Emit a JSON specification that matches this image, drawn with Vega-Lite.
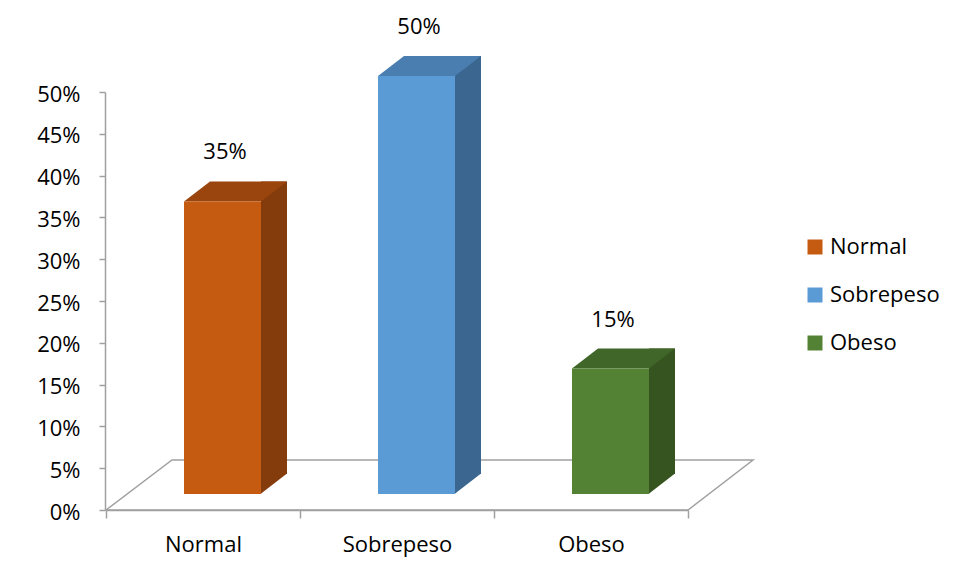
{
  "$schema": "https://vega.github.io/schema/vega-lite/v6.json",
  "width": 582,
  "height": 418,
  "autosize": {"type": "none"},
  "padding": {"left": 106, "top": 92, "right": 269, "bottom": 67},
  "background": "white",
  "config": {"view": {"stroke": null}, "font": "Open Sans"},
  "data": {
    "values": [
      {"estado": "Normal", "pct": 0.35},
      {"estado": "Sobrepeso", "pct": 0.5},
      {"estado": "Obeso", "pct": 0.15}
    ]
  },
  "encoding": {
    "x": {
      "field": "estado",
      "type": "nominal",
      "sort": ["Normal", "Sobrepeso", "Obeso"],
      "scale": {"paddingInner": 0, "paddingOuter": 0},
      "axis": {
        "title": null,
        "labelAngle": 0,
        "labelFontSize": 22,
        "labelFont": "Open Sans",
        "labelColor": "black",
        "domainColor": "#a0a0a0",
        "domainWidth": 1.5,
        "tickColor": "#a0a0a0",
        "tickWidth": 1.5,
        "tickSize": 8,
        "tickBand": "extent",
        "labelPadding": 16
      }
    },
    "y": {
      "field": "pct",
      "type": "quantitative",
      "scale": {"domain": [0, 0.5], "nice": false, "zero": true},
      "axis": {
        "title": null,
        "values": [0, 0.05, 0.1, 0.15, 0.2, 0.25, 0.3, 0.35, 0.4, 0.45, 0.5],
        "format": ".0%",
        "grid": false,
        "labelFontSize": 22,
        "labelFont": "Open Sans",
        "labelColor": "black",
        "labelOffset": 2,
        "domainColor": "#a0a0a0",
        "domainWidth": 1.5,
        "tickColor": "#a0a0a0",
        "tickWidth": 1.5,
        "tickSize": 6,
        "labelPadding": 19,
        "offset": 1
      }
    }
  },
  "layer": [
    {
      "transform": [{"filter": "datum.estado === 'Sobrepeso'"}],
      "mark": {
        "type": "point",
        "shape": "M -291 0 L -225 -50 L 356 -50 L 291 0 Z",
        "size": 4,
        "filled": false,
        "stroke": "#a0a0a0",
        "strokeWidth": 1.5,
        "opacity": 1
      },
      "encoding": {"y": {"datum": 0}}
    },
    {
      "mark": {"type": "bar", "width": 26, "xOffset": 71, "yOffset": -36, "y2Offset": -36},
      "encoding": {
        "color": {
          "field": "estado",
          "type": "nominal",
          "scale": {"domain": ["Normal", "Sobrepeso", "Obeso"], "range": ["#843C0C", "#3A6690", "#36541F"]},
          "legend": null
        }
      }
    },
    {
      "mark": {
        "type": "point",
        "shape": "M 57.5 -36.5 L 84 -36.5 L 57.5 -16 Z",
        "size": 4,
        "filled": true,
        "opacity": 1,
        "strokeWidth": 0
      },
      "encoding": {
        "y": {"datum": 0},
        "color": {
          "field": "estado",
          "type": "nominal",
          "scale": {"domain": ["Normal", "Sobrepeso", "Obeso"], "range": ["#843C0C", "#3A6690", "#36541F"]},
          "legend": null
        }
      }
    },
    {
      "mark": {
        "type": "point",
        "shape": "M -19 0 L 7 -20 L 84 -20 L 58 0 Z",
        "size": 4,
        "filled": true,
        "opacity": 1,
        "strokeWidth": 0,
        "yOffset": -16
      },
      "encoding": {
        "color": {
          "field": "estado",
          "type": "nominal",
          "scale": {"domain": ["Normal", "Sobrepeso", "Obeso"], "range": ["#9A450E", "#4A7EB0", "#40662A"]},
          "legend": null
        }
      }
    },
    {
      "mark": {"type": "bar", "width": 77, "xOffset": 19.5, "yOffset": -16, "y2Offset": -16},
      "encoding": {
        "color": {
          "field": "estado",
          "type": "nominal",
          "scale": {"domain": ["Normal", "Sobrepeso", "Obeso"], "range": ["#C55A11", "#5B9BD5", "#548235"]},
          "legend": {
            "title": null,
            "orient": "none",
            "legendX": 698,
            "legendY": 144,
            "symbolType": "square",
            "symbolSize": 225,
            "symbolStrokeWidth": 0,
            "labelFontSize": 22,
            "labelFont": "Open Sans",
            "labelColor": "black",
            "labelOffset": 4,
            "rowPadding": 26
          }
        }
      }
    },
    {
      "mark": {"type": "text", "xOffset": 22, "yOffset": -65, "fontSize": 22, "font": "Open Sans", "color": "black", "baseline": "middle"},
      "encoding": {"text": {"field": "pct", "type": "quantitative", "format": ".0%"}}
    }
  ],
  "resolve": {"scale": {"color": "independent"}}
}
